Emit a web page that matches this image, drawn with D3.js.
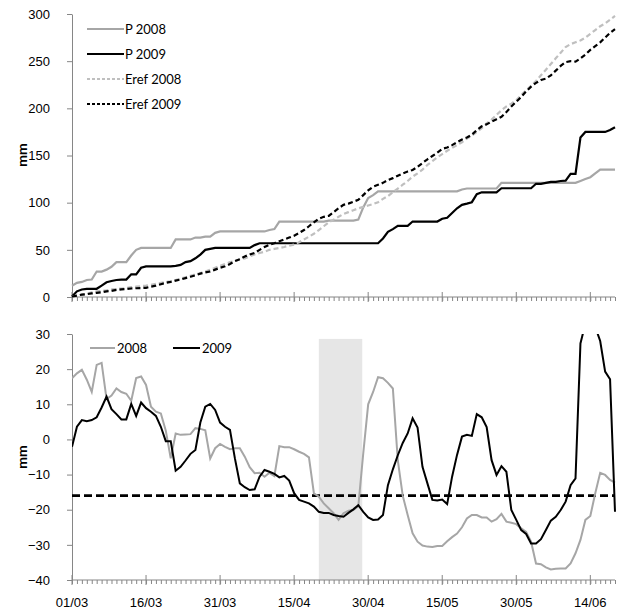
<!DOCTYPE html>
<html>
<head>
<meta charset="utf-8">
<script src="https://cdn.jsdelivr.net/npm/d3@7"></script>
<style>
  body { margin: 0; background: #fff; }
  svg { font-family: Lato, "Liberation Sans", sans-serif; }
  .axis path, .axis line { stroke: #868686; }
  .axis text { fill: #000; font-size: 13px; }
</style>
</head>
<body>
<svg id="chart" width="620" height="612"></svg>
<script>
// x axis: days since 01/03, one value per day
const majorTicks = [0, 15, 30, 45, 60, 75, 90, 105];
const xTickLabels = ['01/03', '16/03', '31/03', '15/04', '30/04', '15/05', '30/05', '14/06'];
const topTicks = [0, 50, 100, 150, 200, 250, 300];
const bottomTicks = [-40, -30, -20, -10, 0, 10, 20, 30];

// cumulative rainfall and reference evapotranspiration (mm)
const p2008 = [12, 15, 16, 18, 18.5, 27, 27, 29, 32, 37, 37, 37, 44, 50, 52, 52, 52, 52, 52, 52,
  52, 61, 61, 61, 61, 63, 63, 64, 64, 68, 69.5, 69.5, 69.5, 69.5, 69.5, 69.5, 69.5, 69.5, 69.5, 69.5,
  71, 72, 80, 80, 80, 80, 80, 80, 80, 80, 80, 80, 81, 81, 81, 81, 81, 81, 82, 95,
  105, 108, 112, 112, 112, 112, 112, 112, 112, 112, 112, 112, 112, 112, 112, 112, 112, 112, 112, 114,
  115, 115, 115, 115, 115, 115, 115, 121, 121, 121, 121, 121, 121, 121, 121, 121, 121, 121, 121, 121,
  121, 121, 121, 123, 125, 127, 131, 135, 135, 135, 135];
const p2009 = [0.5, 6, 8, 8.7, 8.7, 8.7, 12, 15.6, 17, 18, 18.5, 18.5, 24, 24, 31, 32.5, 32.5, 32.5, 32.5, 32.5,
  32.5, 33, 34, 37, 38, 41, 45, 50, 51, 52, 52, 52, 52, 52, 52, 52, 52, 55, 57, 57,
  57, 57, 57, 57, 57, 57, 57, 57, 57, 57, 57, 57, 57, 57, 57, 57, 57, 57, 57, 57,
  57, 57, 57, 62, 69, 72, 75.5, 75.5, 75.5, 80, 80, 80, 80, 80, 80, 83, 84, 89, 94, 97.7,
  99, 100.5, 109, 111, 111, 111, 111, 115.3, 115.3, 115.3, 115.3, 115.3, 115.3, 115.3, 120, 120, 121, 122, 122, 123,
  123.4, 130.5, 130.5, 169, 175, 175, 175, 175, 175, 177, 180];
const eref2008 = [0.5, 1.5, 2.5, 3.5, 5, 6, 6.5, 7, 8, 8.5, 9, 9.5, 10.5, 11, 11.5, 12, 13, 14, 15, 16,
  16.7, 18, 19.5, 21, 22.5, 24, 25.5, 27, 29, 31, 33, 35, 37, 38, 40, 41, 43, 45, 46.7, 48,
  50, 51, 52, 53, 54.5, 55.5, 58, 61, 64, 67, 71, 75, 79, 82, 85, 88, 90, 92, 94, 95.5,
  97, 98.5, 100.5, 104, 107, 111, 115, 119, 123, 127.6, 131, 135, 140, 144, 148, 151.5, 155, 158, 161, 164,
  168, 171, 175, 179, 184, 188, 193, 198, 202, 205, 208.6, 214, 219, 224, 229, 235, 241, 247, 253, 259,
  265, 268, 270, 272, 275, 279, 283, 287, 290, 294, 298];
const eref2009 = [0.5, 1.5, 2.5, 3, 3.8, 4.4, 5, 6, 6.5, 7.5, 8, 8.5, 9, 9.3, 9.5, 9.7, 11, 12, 13.5, 15,
  16, 17.4, 18.5, 20, 21.5, 23, 24.8, 26, 27, 29, 31, 32.5, 35, 38, 40, 43, 45, 46.7, 50, 53,
  55.5, 57, 59, 61, 63, 65, 67.8, 71, 75, 79, 83, 85, 86, 90, 94, 97.7, 99, 101, 103, 108,
  113, 117, 119, 121, 124, 126, 128.5, 131, 133, 134.7, 138, 142, 146, 149.5, 153, 157, 158.5, 161, 164, 167,
  169, 172, 177, 181, 183, 186, 188.5, 191, 196, 202, 207, 212, 218, 223, 227, 230, 231.5, 235, 240, 245,
  249, 250, 249.5, 253, 257, 262, 266, 270, 275, 280, 284];

// water balance (mm)
const wb2008 = [17.4, 18.8, 19.8, 17, 13.5, 21.2, 21.8, 11.5, 12.5, 14.5, 13.5, 13, 11, 17.5, 17.9, 15.5, 9.3, 7.9, 7.4, 2.5,
  -5.4, 1.7, 1.3, 1.4, 1.5, 3.2, 3, 2.6, -5.4, -2.5, -1.3, -2.1, -2.8, -2.5, -2.5, -4.9, -7.9, -9.6, -9.5, -10.6,
  -9.5, -10.4, -1.9, -2.2, -2.2, -2.8, -3.5, -4.1, -5.1, -15.3, -16.3, -18.2, -19.6, -21, -22.9, -21, -20.3, -20.1, -19, -4,
  10, 13.5, 17.7, 17.4, 16.1, 14.5, -6, -16, -21.5, -26.7, -29.1, -30.2, -30.5, -30.6, -30.3, -30.3, -29, -27.8, -26.8, -25,
  -22.5, -21.5, -21.5, -22.2, -22.2, -23.4, -22.7, -21.2, -23.4, -23.7, -24.1, -25.3, -26.3, -29.1, -35.3, -35.5, -36.4, -37, -36.8, -36.7,
  -36.7, -35.3, -32.4, -28.6, -22.9, -21.8, -15.3, -9.5, -10.1, -11.5, -12.3];
const wb2009 = [-2.1, 3.6, 5.5, 5.2, 5.5, 6.3, 9.1, 12.2, 8.6, 7.2, 5.7, 5.7, 10.1, 6.7, 10.5, 8.9, 7.9, 6.7, 3.6, -0.5,
  -0.5, -8.9, -7.8, -6, -4.1, -3, 4.8, 9.3, 10.1, 8.4, 4.8, 3.6, 2.7, -5.4, -12.5, -13.6, -14.4, -14.2, -10.6, -8.7,
  -9.2, -9.8, -10.8, -10.4, -11.7, -15.3, -17.2, -17.7, -18.2, -19.1, -20.6, -20.9, -20.9, -21.5, -21.8, -22, -20.9, -19.9, -18.7, -20.6,
  -22.2, -22.9, -22.8, -21.5, -13, -8.5, -4.5, -1, 1.7, 6, 3.4, -7.8, -12.5, -17.2, -17.4, -17.1, -18.4, -10.6, -4.4, 0.8,
  1.3, 1, 7.2, 6.3, 3.5, -5.9, -10.1, -7.6, -9.2, -20.1, -22.9, -25.8, -26.9, -29.6, -29.6, -28.4, -25.8, -23.1, -22, -20.1,
  -17.7, -13, -11.1, 27.3, 33, 34, 32, 28, 19.3, 17.1, -20.6];
const threshold = [-16];
const shadeDays = [50, 58.8];
const shadeTop = [28.6];

window.addEventListener('load', () => {
    let svg = d3.select('svg#chart');
    let days = d3.range(p2008.length);

    let x = d3.scaleLinear().domain([0, 110]).range([72, 615]);
    let yTop = d3.scaleLinear().domain([0, 300]).range([297, 14]);
    let yBot = d3.scaleLinear().domain([-40, 30]).range([580, 334]);

    svg.append('clipPath').attr('id', 'clipBot')
        .append('rect').attr('x', 72).attr('y', yBot(30)).attr('width', 560).attr('height', yBot(-40) - yBot(30));

    // x axes: minor tick each day, major ticks every 15 days
    function drawXAxis(yPos, labels) {
        let g = svg.append('g').attr('class', 'axis').attr('transform', 'translate(0,' + yPos + ')');
        g.call(d3.axisBottom(x).tickValues(days).tickSize(4).tickFormat(''))
        g.select('.domain').remove();
        g.append('line').attr('x1', x(0)).attr('x2', x(110)).attr('stroke', '#868686');
        majorTicks.forEach((d, i) => {
            g.append('line').attr('x1', x(d)).attr('x2', x(d)).attr('y1', -5).attr('y2', 5).attr('stroke', '#868686');
            if (labels) {
                g.append('text').attr('x', x(d)).attr('y', 27)
                    .attr('text-anchor', 'middle').style('font-size', '13px').text(xTickLabels[i]);
            }
        });
    }

    function drawYAxis(scale, ticks) {
        let g = svg.append('g').attr('class', 'axis').attr('transform', 'translate(72,0)');
        g.call(d3.axisLeft(scale).tickValues(ticks).tickSize(5).tickPadding(17).tickSizeOuter(0));
    }

    drawYAxis(yTop, topTicks);
    drawYAxis(yBot, bottomTicks);

    // shaded period in the lower panel
    svg.append('rect')
        .attr('x', x(shadeDays[0])).attr('width', x(shadeDays[1]) - x(shadeDays[0]))
        .attr('y', yBot(shadeTop[0])).attr('height', yBot(-40) - yBot(shadeTop[0]))
        .attr('fill', '#e6e6e6');

    drawXAxis(yTop(0), false);
    drawXAxis(yBot(-40), true);

    let lineTop = d3.line().x((d, i) => x(i)).y(d => yTop(d));
    let lineBot = d3.line().x((d, i) => x(i)).y(d => yBot(d));

    // top panel series
    let topSeries = [
        { data: p2008, color: '#a6a6a6', dash: null, name: 'P 2008' },
        { data: p2009, color: '#000', dash: null, name: 'P 2009' },
        { data: eref2008, color: '#bfbfbf', dash: '5,3', name: 'Eref 2008' },
        { data: eref2009, color: '#000', dash: '5,3', name: 'Eref 2009' }
    ];
    topSeries.forEach(s => {
        svg.append('path').datum(s.data)
            .attr('d', lineTop).attr('fill', 'none')
            .attr('stroke', s.color).attr('stroke-width', 2.2)
            .attr('stroke-dasharray', s.dash);
    });

    // threshold line
    svg.append('line')
        .attr('x1', x(0)).attr('x2', x(110))
        .attr('y1', yBot(threshold[0])).attr('y2', yBot(threshold[0]))
        .attr('stroke', '#000').attr('stroke-width', 2.7).attr('stroke-dasharray', '8,4');

    // lower panel series
    let botSeries = [
        { data: wb2008, color: '#a6a6a6', name: '2008' },
        { data: wb2009, color: '#000', name: '2009' }
    ];
    botSeries.forEach(s => {
        svg.append('path').datum(s.data)
            .attr('d', lineBot).attr('fill', 'none')
            .attr('clip-path', 'url(#clipBot)')
            .attr('stroke', s.color).attr('stroke-width', 2);
    });

    // legends
    topSeries.forEach((s, i) => {
        let ly = 29 + i * 25;
        svg.append('line').attr('x1', 87).attr('x2', 124).attr('y1', ly).attr('y2', ly)
            .attr('stroke', s.color).attr('stroke-width', 2.2).attr('stroke-dasharray', s.dash ? '3,2' : null);
        svg.append('text').attr('x', 125).attr('y', ly + 4.5).style('font-size', '13px').text(s.name);
    });
    let botLegend = [[90, 115, 117], [173, 200, 202]];
    botSeries.forEach((s, i) => {
        let p = botLegend[i];
        svg.append('line').attr('x1', p[0]).attr('x2', p[1]).attr('y1', 348).attr('y2', 348)
            .attr('stroke', s.color).attr('stroke-width', 2);
        svg.append('text').attr('x', p[2]).attr('y', 352.5).style('font-size', '13px').text(s.name);
    });

    // axis titles
    [[22, 155], [22, 457]].forEach(p => {
        svg.append('text')
            .attr('transform', 'translate(' + p[0] + ',' + p[1] + ') rotate(-90)')
            .attr('text-anchor', 'middle').attr('dy', '0.35em')
            .style('font-size', '14px').style('font-weight', 'bold').text('mm');
    });
})
</script>
</body>
</html>
